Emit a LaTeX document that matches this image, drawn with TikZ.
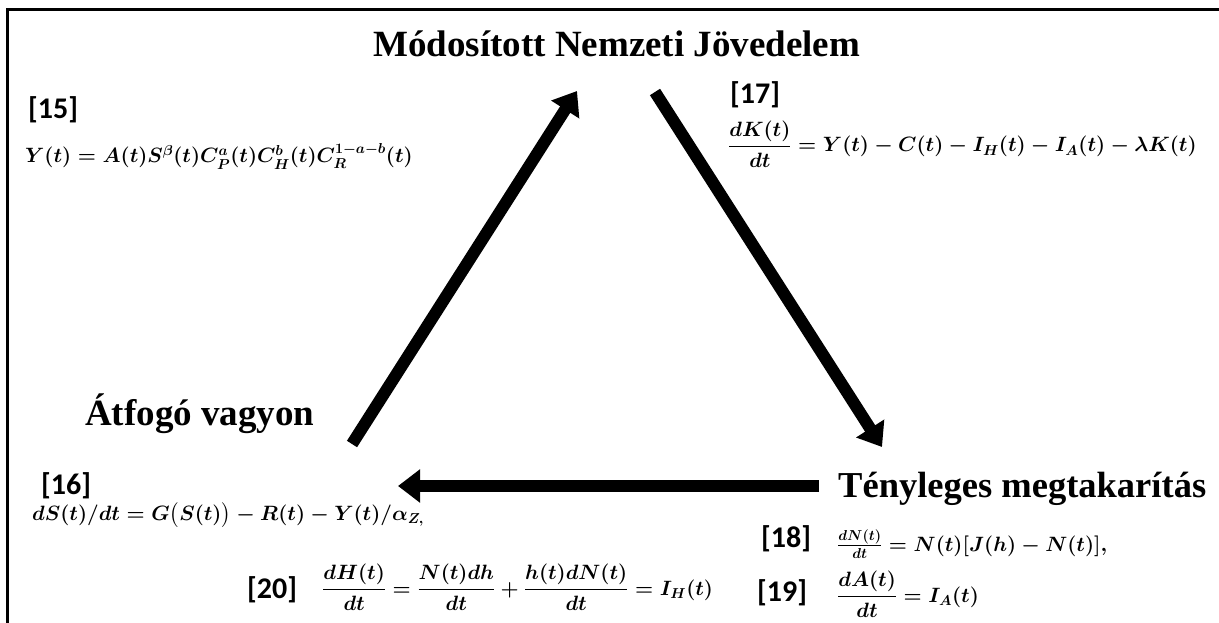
\documentclass[tikz,border=0pt]{standalone}
\usepackage{amsmath,bm}
\usepackage{fontspec}
\setmainfont{Liberation Serif}
\newfontfamily\lblfont{Carlito}
\usetikzlibrary{arrows.meta}
\begin{document}
\begin{tikzpicture}[x=1pt,y=-1pt,
  title/.style={anchor=base west, inner sep=0pt, font=\fontsize{37}{40}\selectfont\bfseries},
  lbl/.style={anchor=base west, inner sep=0pt, font=\fontsize{30}{32}\selectfont\lblfont\bfseries},
  eq/.style={anchor=base west, inner sep=0pt, font=\fontsize{20}{24}\selectfont\boldmath},
  bigarrow/.style={line width=12pt, -{Triangle[length=22pt,width=32pt]}},
  frameline/.style={line width=3pt}
]
\useasboundingbox (0,0) rectangle (1219,623);
\draw[frameline] (1219,10) -- (7,10) -- (7,623);

\node[title] (mnj) at (373,57) {Módosított Nemzeti Jövedelem};
\node[title] (av) at (85,425) {Átfogó vagyon};
\node[title, font=\fontsize{36.5}{40}\selectfont\bfseries] (tm) at (838,497) {Tényleges megtakarítás};

\coordinate (a1s) at (352,444);
\coordinate (a1e) at (577,91);
\coordinate (a2s) at (655,92);
\coordinate (a2e) at (882,447);
\coordinate (a3s) at (819,486);
\coordinate (a3e) at (398,486);
\draw[bigarrow] (a1s) -- (a1e);
\draw[bigarrow] (a2s) -- (a2e);
\draw[bigarrow] (a3s) -- (a3e);

\node[lbl] (l15) at (28,119) {[15]};
\node[eq] (e15) at (25,163) {$Y(t)=A(t)S^{\beta}(t)C_P^{a}(t)C_H^{b}(t)C_R^{1-a-b}(t)$};

\node[lbl] (l17) at (730,104) {[17]};
\node[eq] (e17) at (728,152) {$\dfrac{dK(t)}{dt}=Y(t)-C(t)-I_H(t)-I_A(t)-\lambda K(t)$};

\node[lbl] (l16) at (41,494) {[16]};
\node[eq] (e16) at (32,520) {$dS(t)/dt=G\bigl(S(t)\bigr)-R(t)-Y(t)/\alpha_{Z,}$};

\node[lbl] (l20) at (247,598) {[20]};
\node[eq] (e20) at (322,595) {$\dfrac{dH(t)}{dt}=\dfrac{N(t)dh}{dt}+\dfrac{h(t)dN(t)}{dt}=I_H(t)$};

\node[lbl] (l18) at (761,547) {[18]};
\node[eq] (e18) at (837,551) {$\frac{dN(t)}{dt}=N(t)[J(h)-N(t)],$};

\node[lbl] (l19) at (757,601) {[19]};
\node[eq] (e19) at (837,602) {$\dfrac{dA(t)}{dt}=I_A(t)$};
\end{tikzpicture}
\end{document}
